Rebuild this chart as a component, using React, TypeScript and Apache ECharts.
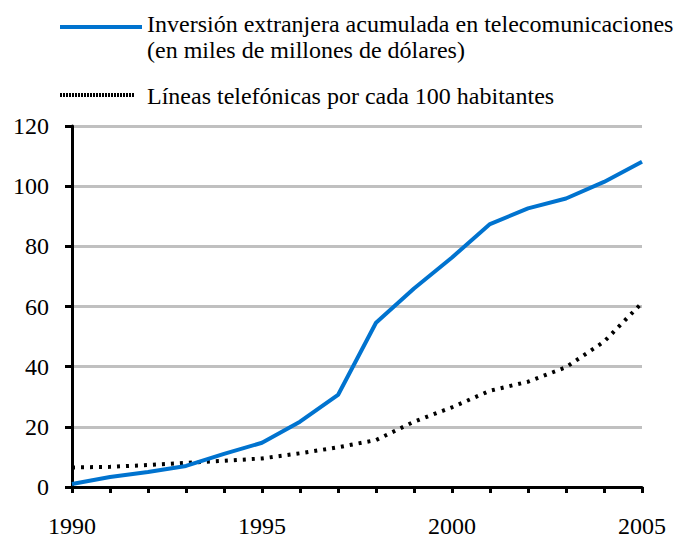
import React, { useEffect, useRef } from "react";
import * as echarts from "echarts";

const years = [1990, 1991, 1992, 1993, 1994, 1995, 1996, 1997, 1998, 1999, 2000, 2001, 2002, 2003, 2004, 2005];
const inversion = [1, 3.3, 5, 7, 11, 14.7, 21.7, 30.6, 54.6, 66, 76.3, 87.4, 92.6, 95.9, 101.4, 108.1];
const lineas = [6.5, 6.7, 7.3, 8, 8.7, 9.5, 11.2, 13.2, 15.6, 21.7, 26.5, 32, 35, 39.8, 48.3, 61.2];
const yTicks = [0, 20, 40, 60, 80, 100, 120];
const xLabels = [1990, 1995, 2000, 2005];
const legendInv = ["Inversión extranjera acumulada en telecomunicaciones", "(en miles de millones de dólares)"];
const legendLin = "Líneas telefónicas por cada 100 habitantes";

const FONT = "Times New Roman, Liberation Serif, serif";
const BLUE = "#0073CF";

export default function App() {
  const ref = useRef<HTMLDivElement>(null);
  useEffect(() => {
    if (!ref.current) return;
    const chart = echarts.init(ref.current, undefined, { renderer: "svg" });
    chart.setOption({
      animation: false,
      backgroundColor: "#fff",
      textStyle: { fontFamily: FONT },
      grid: { left: 72, right: 37, top: 126, bottom: 51 },
      xAxis: {
        type: "value",
        min: 1990,
        max: 2005,
        interval: 1,
        axisLine: { show: true, lineStyle: { color: "#000", width: 3 } },
        axisTick: { show: true, length: 6, lineStyle: { color: "#000", width: 3 } },
        splitLine: { show: false },
        axisLabel: {
          margin: 27,
          fontSize: 24,
          color: "#000",
          fontFamily: FONT,
          formatter: (v: number) => (xLabels.includes(v) ? String(v) : ""),
        },
      },
      yAxis: {
        type: "value",
        min: yTicks[0],
        max: yTicks[yTicks.length - 1],
        interval: 20,
        axisLine: { show: true, lineStyle: { color: "#000", width: 3 } },
        axisTick: { show: true, length: 7, lineStyle: { color: "#000", width: 3 } },
        splitLine: { show: true, lineStyle: { color: "#c0c0c0", width: 3 } },
        axisLabel: { margin: 23, fontSize: 24, color: "#000", fontFamily: FONT },
      },
      series: [
        {
          name: legendLin,
          type: "line",
          data: years.map((y, i) => [y, lineas[i]]),
          symbol: "none",
          z: 3,
          lineStyle: { color: "#000", width: 4, type: [3, 6] },
        },
        {
          name: legendInv.join(" "),
          type: "line",
          data: years.map((y, i) => [y, inversion[i]]),
          symbol: "none",
          z: 4,
          lineStyle: { color: BLUE, width: 4 },
        },
      ],
      graphic: [
        { type: "line", shape: { x1: 60, y1: 27, x2: 142, y2: 27 }, style: { stroke: BLUE, lineWidth: 4 } },
        {
          type: "text",
          x: 147,
          y: 24,
          style: { text: legendInv[0], fontSize: 24, fontFamily: FONT, fill: "#000", verticalAlign: "middle" },
        },
        {
          type: "text",
          x: 147,
          y: 50,
          style: { text: legendInv[1], fontSize: 24, fontFamily: FONT, fill: "#000", verticalAlign: "middle" },
        },
        {
          type: "line",
          shape: { x1: 60, y1: 95, x2: 135, y2: 95 },
          style: { stroke: "#000", lineWidth: 4, lineDash: [2, 1] },
        },
        {
          type: "text",
          x: 147,
          y: 96,
          style: { text: legendLin, fontSize: 24, fontFamily: FONT, fill: "#000", verticalAlign: "middle" },
        },
      ],
    });
    return () => chart.dispose();
  }, []);
  return <div ref={ref} style={{ width: 679, height: 538, position: "absolute", left: 0, top: 0 }} />;
}
